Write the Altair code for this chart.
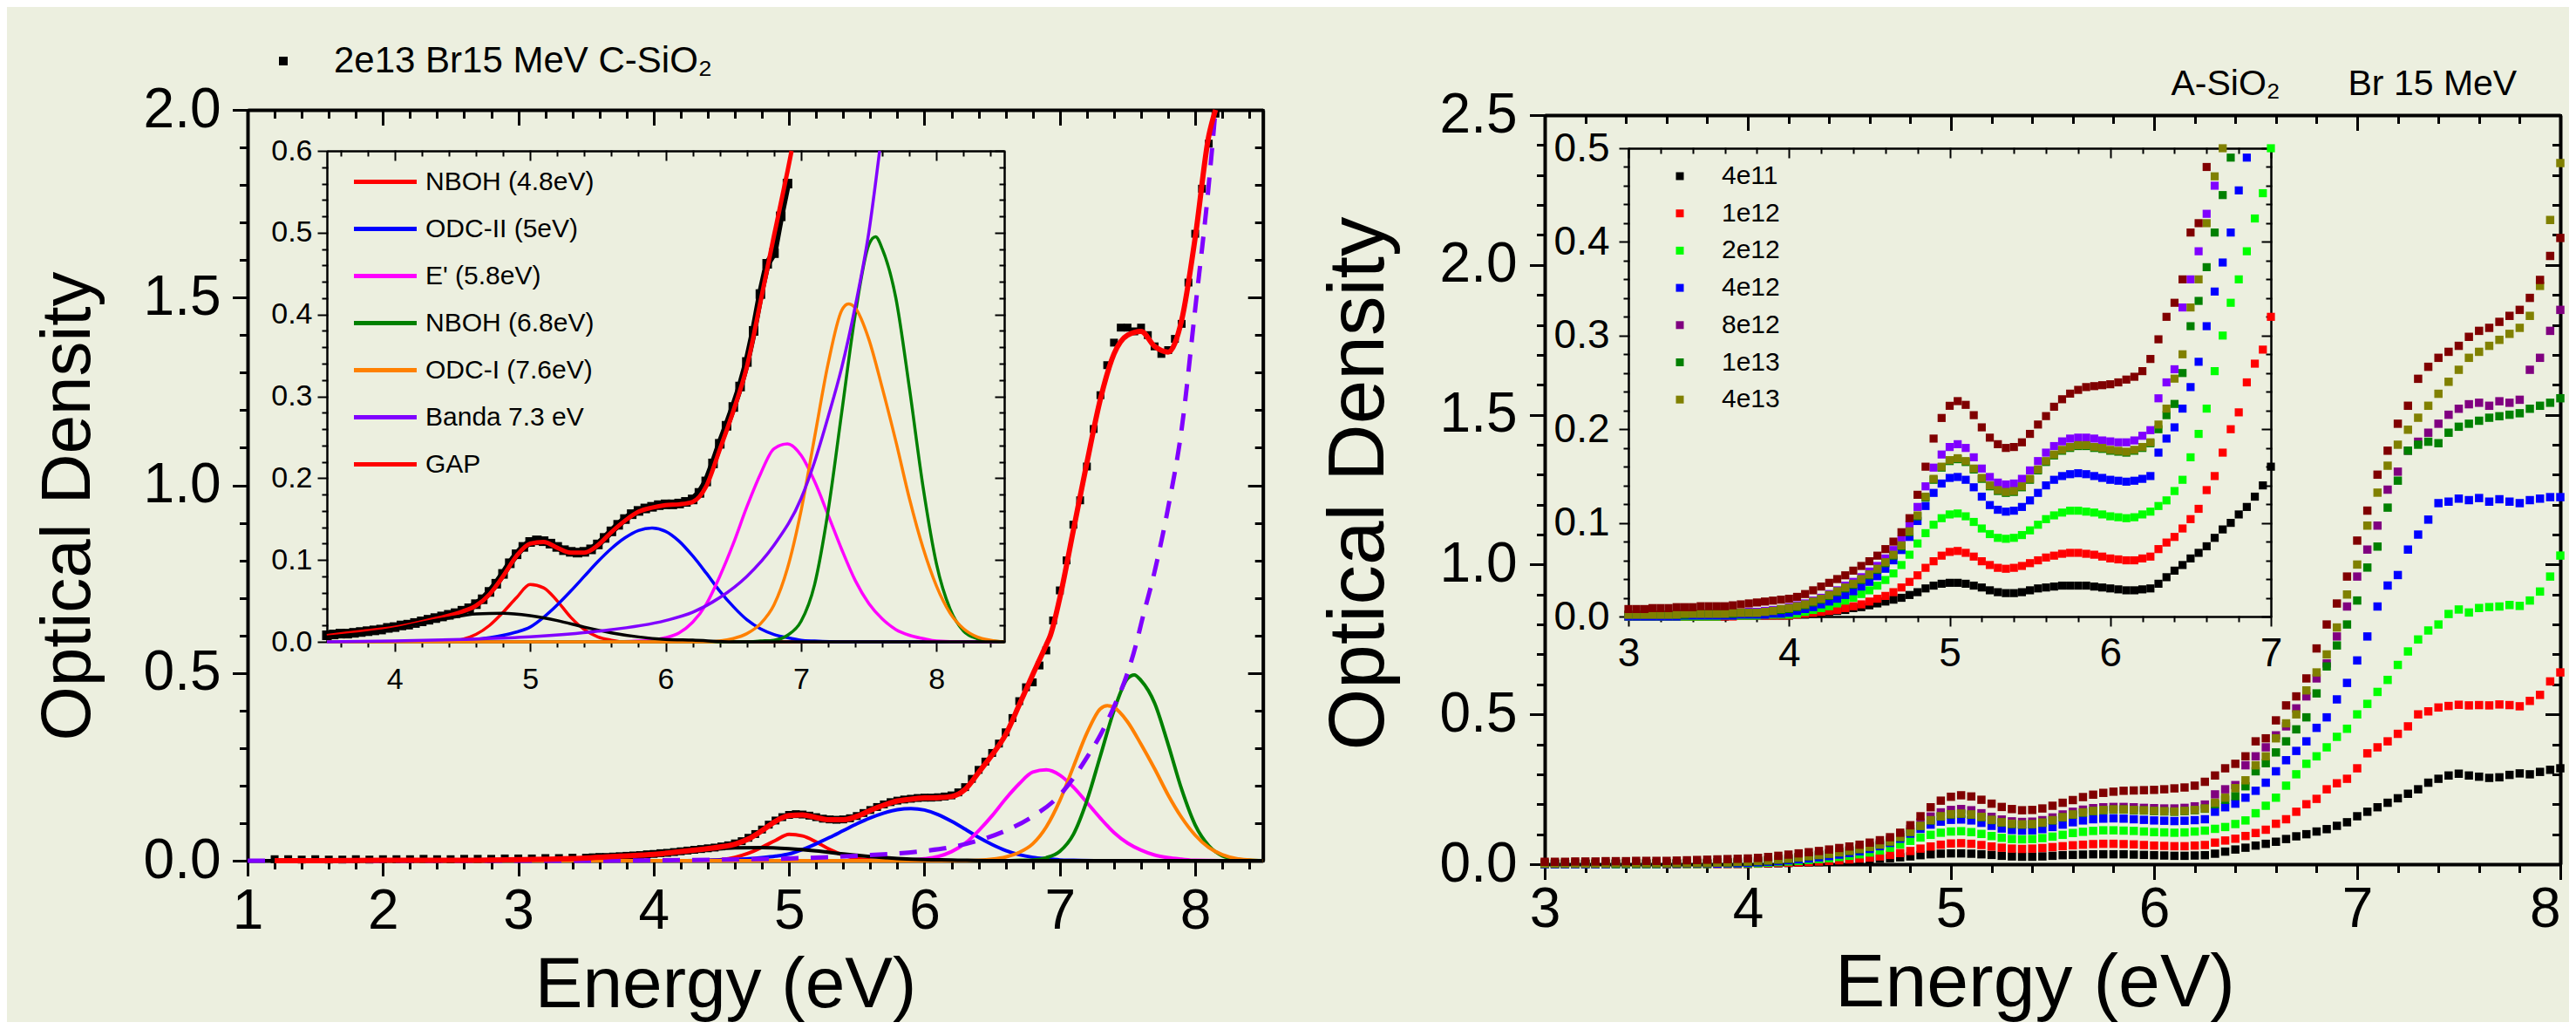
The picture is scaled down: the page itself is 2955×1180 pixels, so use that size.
import altair as alt
import pandas as pd

# ====================== LEFT PANEL DATA (C-SiO2, 2e13 Br 15 MeV) ======================
LEFT_LEGEND = "2e13 Br15 MeV C-SiO\u2082"

pts_E = [1.2, 1.3, 1.4, 1.5, 1.6, 1.7, 1.8, 1.9, 2.0, 2.1, 2.2, 2.3, 2.4, 2.5, 2.6, 2.7, 2.8, 2.9, 3.0, 3.1, 3.2, 3.3, 3.4,
         3.5, 3.55, 3.6, 3.65, 3.7, 3.75, 3.8, 3.85, 3.9, 3.95,
         4.0, 4.05, 4.1, 4.15, 4.2, 4.25, 4.3, 4.35, 4.4, 4.45,
         4.5, 4.55, 4.6, 4.65, 4.7, 4.75, 4.8, 4.85, 4.9, 4.95,
         5.0, 5.05, 5.1, 5.15, 5.2, 5.25, 5.3, 5.35, 5.4, 5.45,
         5.5, 5.55, 5.6, 5.65, 5.7, 5.75, 5.8, 5.85, 5.9, 5.95,
         6.0, 6.05, 6.1, 6.15, 6.2, 6.25, 6.3, 6.35, 6.4, 6.45,
         6.5, 6.55, 6.6, 6.65, 6.7, 6.75, 6.8, 6.85, 6.9, 6.95,
         7.0, 7.05, 7.1, 7.15, 7.2, 7.25, 7.3, 7.35, 7.4, 7.45,
         7.5, 7.55, 7.6, 7.65, 7.7, 7.75, 7.8, 7.85, 7.9, 7.95,
         8.0, 8.05, 8.1, 8.15]
pts_OD = [0.004, 0.004, 0.003, 0.004, 0.003, 0.003, 0.004, 0.003, 0.004, 0.004, 0.004, 0.005, 0.004, 0.004, 0.005,
          0.005, 0.005, 0.006, 0.006, 0.006, 0.007, 0.007, 0.008,
          0.008, 0.009, 0.010, 0.010, 0.011, 0.012, 0.013, 0.014, 0.015, 0.017,
          0.018, 0.020, 0.021, 0.023, 0.025, 0.027, 0.029, 0.031, 0.033, 0.035,
          0.038, 0.041, 0.046, 0.052, 0.061, 0.071, 0.083, 0.096, 0.107, 0.116,
          0.122, 0.124, 0.123, 0.120, 0.116, 0.112, 0.110, 0.109, 0.110, 0.113,
          0.119, 0.127, 0.135, 0.143, 0.150, 0.156, 0.160, 0.163, 0.165, 0.167,
          0.168, 0.168, 0.169, 0.171, 0.174, 0.182, 0.196, 0.218, 0.242, 0.264,
          0.287, 0.312, 0.342, 0.380, 0.425, 0.462, 0.475, 0.520, 0.560, 0.640,
          0.720, 0.800, 0.895, 0.960, 1.050, 1.150, 1.240, 1.320, 1.380, 1.420,
          1.420, 1.410, 1.420, 1.400, 1.370, 1.350, 1.360, 1.390, 1.430, 1.540,
          1.670, 1.790, 1.910, 1.990]

# total fit ("GAP" legend entry, red)
fit_E = [1.2, 1.5, 2.0, 2.5, 3.0, 3.5, 3.75, 4.0, 4.25, 4.5,
         4.6, 4.7, 4.8, 4.9, 5.0, 5.1, 5.2, 5.3, 5.4, 5.5, 5.6, 5.7, 5.8, 5.9, 6.0, 6.1, 6.2, 6.3, 6.4, 6.5,
         6.6, 6.7, 6.8, 6.9, 6.93, 7.0, 7.1, 7.2, 7.3, 7.4, 7.5, 7.6, 7.7, 7.8, 7.9, 8.0, 8.1, 8.15]
fit_OD = [0.000, 0.000, 0.001, 0.001, 0.003, 0.007, 0.012, 0.017, 0.026, 0.037,
          0.044, 0.058, 0.080, 0.105, 0.120, 0.122, 0.115, 0.109, 0.109, 0.118, 0.134, 0.148, 0.159, 0.164,
          0.167, 0.168, 0.171, 0.190, 0.235, 0.282,
          0.336, 0.415, 0.496, 0.575, 0.600, 0.700, 0.880, 1.060, 1.230, 1.350, 1.400, 1.410, 1.370, 1.355,
          1.440, 1.660, 1.930, 2.000]

# gaussian components
nboh48_E = [1.0, 3.5, 4.3, 4.4, 4.5, 4.6, 4.7, 4.8, 4.9, 5.0, 5.1, 5.2, 5.3, 5.4, 5.5, 5.6, 5.7, 8.5]
nboh48 = [0, 0, 0, 0.001, 0.003, 0.009, 0.020, 0.036, 0.054, 0.070, 0.066, 0.050, 0.030, 0.015, 0.006, 0.002, 0, 0]

odc2_E = [1.0, 3.5, 4.2, 4.4, 4.5, 4.6, 4.7, 4.8, 4.9, 5.0, 5.1, 5.2, 5.3, 5.4, 5.5, 5.6, 5.7, 5.8, 5.9, 6.0,
          6.1, 6.2, 6.3, 6.4, 6.5, 6.6, 6.7, 6.8, 6.9, 7.0, 7.1, 7.3, 8.5]
odc2 = [0, 0, 0, 0.001, 0.002, 0.003, 0.005, 0.008, 0.012, 0.018, 0.030, 0.045, 0.062, 0.080, 0.098, 0.114,
        0.127, 0.136, 0.139, 0.135, 0.123, 0.105, 0.084, 0.062, 0.043, 0.027, 0.016, 0.009, 0.005, 0.002,
        0.001, 0, 0]

eprime_E = [1.0, 3.5, 5.6, 5.8, 5.9, 6.0, 6.1, 6.2, 6.3, 6.4, 6.5, 6.6, 6.7, 6.8, 6.9, 7.0, 7.1, 7.2, 7.3,
            7.4, 7.5, 7.6, 7.7, 7.8, 7.9, 8.0, 8.2, 8.5]
eprime = [0, 0, 0, 0.001, 0.002, 0.005, 0.011, 0.024, 0.046, 0.080, 0.120, 0.165, 0.205, 0.236, 0.242,
          0.228, 0.196, 0.155, 0.113, 0.075, 0.047, 0.028, 0.015, 0.008, 0.004, 0.001, 0, 0]

nboh68_E = [1.0, 3.5, 6.6, 6.7, 6.8, 6.9, 7.0, 7.1, 7.2, 7.3, 7.4, 7.5, 7.55, 7.6, 7.7, 7.8, 7.9, 8.0, 8.1,
            8.2, 8.3, 8.4, 8.5]
nboh68 = [0, 0, 0, 0.001, 0.002, 0.008, 0.025, 0.070, 0.160, 0.280, 0.400, 0.485, 0.495, 0.480, 0.420,
          0.310, 0.190, 0.095, 0.040, 0.013, 0.004, 0.001, 0]

odc1_E = [1.0, 3.5, 6.3, 6.4, 6.5, 6.6, 6.7, 6.8, 6.9, 7.0, 7.1, 7.2, 7.3, 7.35, 7.4, 7.5, 7.6, 7.7, 7.8,
          7.9, 8.0, 8.1, 8.2, 8.3, 8.4, 8.5]
odc1 = [0, 0, 0, 0.001, 0.004, 0.010, 0.022, 0.045, 0.090, 0.160, 0.250, 0.340, 0.405, 0.413, 0.408,
        0.370, 0.310, 0.245, 0.175, 0.115, 0.068, 0.035, 0.016, 0.006, 0.002, 0]

broad_E = [1.0, 2.5, 3.0, 3.5, 4.0, 4.2, 4.4, 4.6, 4.8, 5.0, 5.2, 5.4, 5.6, 5.8, 6.0, 6.2, 6.5, 8.5]
broad = [0, 0.001, 0.002, 0.006, 0.016, 0.023, 0.029, 0.034, 0.035, 0.032, 0.026, 0.018, 0.011, 0.006,
         0.003, 0.002, 0, 0]

banda_E = [1.0, 3.5, 4.0, 4.5, 5.0, 5.5, 6.0, 6.2, 6.4, 6.6, 6.8, 7.0, 7.1, 7.2, 7.3, 7.4, 7.5, 7.58, 7.6,
           7.7, 7.8, 7.9, 8.0, 8.1, 8.15]
banda = [0, 0, 0.001, 0.003, 0.006, 0.013, 0.026, 0.036, 0.054, 0.080, 0.118, 0.175, 0.220, 0.275, 0.335,
         0.410, 0.500, 0.600, 0.630, 0.770, 0.940, 1.150, 1.470, 1.800, 2.000]

COMP_NAMES = ["NBOH (4.8eV)", "ODC-II (5eV)", "E' (5.8eV)", "NBOH (6.8eV)", "ODC-I (7.6eV)",
              "Banda 7.3 eV", "GAP"]
COMP_COLORS = ["#FF0000", "#0000FF", "#FF00FF", "#008000", "#FF8000", "#8000FF", "#FF0000"]
BROAD_NAME = "banda 4.7 eV"

# ====================== RIGHT PANEL DATA (A-SiO2, Br 15 MeV) ======================
r_E = [3.0, 3.05, 3.1, 3.15, 3.2, 3.25, 3.3, 3.35, 3.4, 3.45,
       3.5, 3.55, 3.6, 3.65, 3.7, 3.75, 3.8, 3.85, 3.9, 3.95,
       4.0, 4.05, 4.1, 4.15, 4.2, 4.25, 4.3, 4.35, 4.4, 4.45,
       4.5, 4.55, 4.6, 4.65, 4.7, 4.75, 4.8, 4.85, 4.9, 4.95,
       5.0, 5.05, 5.1, 5.15, 5.2, 5.25, 5.3, 5.35, 5.4, 5.45,
       5.5, 5.55, 5.6, 5.65, 5.7, 5.75, 5.8, 5.85, 5.9, 5.95,
       6.0, 6.05, 6.1, 6.15, 6.2, 6.25, 6.3, 6.35, 6.4, 6.45,
       6.5, 6.55, 6.6, 6.65, 6.7, 6.75, 6.8, 6.85, 6.9, 6.95,
       7.0, 7.05, 7.1, 7.15, 7.2, 7.25, 7.3, 7.35, 7.4, 7.45,
       7.5, 7.55, 7.6, 7.65, 7.7, 7.75, 7.8, 7.85, 7.9, 7.95,
       8.0]

s_4e11 = [0.000, 0.000, 0.000, 0.000, 0.000, 0.000, 0.000, 0.000, 0.000, 0.000,
          0.000, 0.000, 0.000, 0.001, 0.001, 0.001, 0.001, 0.001, 0.001, 0.001,
          0.001, 0.002, 0.002, 0.003, 0.004, 0.005, 0.006, 0.007, 0.009, 0.010,
          0.012, 0.014, 0.016, 0.018, 0.020, 0.023, 0.026, 0.030, 0.033, 0.035,
          0.036, 0.036, 0.035, 0.033, 0.031, 0.028, 0.026, 0.025, 0.025, 0.026,
          0.028, 0.030, 0.031, 0.032, 0.033, 0.033, 0.033, 0.033, 0.032, 0.031,
          0.030, 0.029, 0.028, 0.028, 0.029, 0.030, 0.035, 0.042, 0.049, 0.055,
          0.062, 0.068, 0.075, 0.084, 0.093, 0.100, 0.109, 0.117, 0.128, 0.140,
          0.160, 0.175, 0.190, 0.205, 0.220, 0.235, 0.250, 0.272, 0.285, 0.296,
          0.302, 0.296, 0.292, 0.288, 0.290, 0.298, 0.303, 0.300, 0.308, 0.315,
          0.320]
s_1e12 = [0.000, 0.000, 0.000, 0.000, 0.000, 0.000, 0.000, 0.000, 0.000, 0.000,
          0.000, 0.000, 0.000, 0.000, 0.001, 0.001, 0.001, 0.001, 0.001, 0.001,
          0.001, 0.002, 0.003, 0.004, 0.005, 0.006, 0.007, 0.009, 0.011, 0.013,
          0.016, 0.019, 0.022, 0.026, 0.031, 0.037, 0.044, 0.052, 0.059, 0.065,
          0.069, 0.070, 0.068, 0.064, 0.059, 0.055, 0.052, 0.051, 0.052, 0.054,
          0.057, 0.060, 0.063, 0.065, 0.067, 0.068, 0.068, 0.067, 0.066, 0.064,
          0.062, 0.061, 0.060, 0.060, 0.062, 0.064, 0.072, 0.079, 0.085, 0.094,
          0.104, 0.115, 0.135, 0.150, 0.175, 0.200, 0.218, 0.250, 0.270, 0.285,
          0.320, 0.370, 0.390, 0.410, 0.435, 0.460, 0.500, 0.510, 0.523, 0.528,
          0.532, 0.530, 0.531, 0.530, 0.533, 0.531, 0.527, 0.545, 0.565, 0.610,
          0.640]
s_2e12 = [0.000, 0.000, 0.000, 0.000, 0.000, 0.000, 0.000, 0.000, 0.000, 0.000,
          0.000, 0.000, 0.001, 0.001, 0.001, 0.001, 0.001, 0.002, 0.002, 0.002,
          0.002, 0.003, 0.005, 0.007, 0.009, 0.011, 0.014, 0.017, 0.020, 0.024,
          0.028, 0.033, 0.039, 0.046, 0.055, 0.066, 0.078, 0.089, 0.098, 0.105,
          0.109, 0.110, 0.107, 0.101, 0.094, 0.088, 0.084, 0.083, 0.084, 0.087,
          0.092, 0.098, 0.104, 0.108, 0.111, 0.113, 0.113, 0.112, 0.111, 0.109,
          0.107, 0.106, 0.105, 0.106, 0.109, 0.112, 0.118, 0.124, 0.134, 0.146,
          0.170, 0.195, 0.222, 0.262, 0.300, 0.335, 0.360, 0.390, 0.425, 0.452,
          0.500, 0.535, 0.575, 0.615, 0.665, 0.710, 0.750, 0.780, 0.800, 0.835,
          0.850, 0.840, 0.855, 0.858, 0.860, 0.865, 0.862, 0.880, 0.910, 0.960,
          1.030]
s_4e12 = [0.000, 0.000, 0.000, 0.000, 0.000, 0.000, 0.000, 0.001, 0.001, 0.001,
          0.001, 0.001, 0.001, 0.001, 0.002, 0.002, 0.002, 0.002, 0.003, 0.003,
          0.004, 0.006, 0.008, 0.010, 0.013, 0.016, 0.019, 0.023, 0.027, 0.032,
          0.037, 0.043, 0.051, 0.060, 0.071, 0.085, 0.102, 0.118, 0.132, 0.142,
          0.148, 0.149, 0.146, 0.138, 0.128, 0.119, 0.114, 0.112, 0.113, 0.117,
          0.124, 0.132, 0.140, 0.146, 0.150, 0.152, 0.153, 0.152, 0.150, 0.148,
          0.146, 0.145, 0.144, 0.145, 0.147, 0.150, 0.175, 0.190, 0.202, 0.222,
          0.245, 0.272, 0.310, 0.347, 0.378, 0.410, 0.455, 0.490, 0.550, 0.605,
          0.680, 0.760, 0.860, 0.930, 0.965, 1.050, 1.100, 1.150, 1.205, 1.210,
          1.220, 1.215, 1.222, 1.210, 1.218, 1.210, 1.205, 1.215, 1.220, 1.225,
          1.225]
s_8e12 = [0.002, 0.002, 0.002, 0.002, 0.002, 0.002, 0.003, 0.003, 0.003, 0.003,
          0.003, 0.003, 0.004, 0.004, 0.004, 0.005, 0.005, 0.006, 0.007, 0.008,
          0.010, 0.012, 0.014, 0.017, 0.020, 0.024, 0.028, 0.033, 0.037, 0.042,
          0.048, 0.054, 0.062, 0.071, 0.082, 0.098, 0.117, 0.139, 0.159, 0.173,
          0.181, 0.184, 0.180, 0.170, 0.158, 0.149, 0.143, 0.141, 0.142, 0.147,
          0.156, 0.166, 0.175, 0.182, 0.187, 0.190, 0.191, 0.191, 0.190, 0.188,
          0.187, 0.186, 0.186, 0.188, 0.193, 0.199, 0.233, 0.250, 0.264, 0.330,
          0.360, 0.390, 0.430, 0.460, 0.520, 0.560, 0.620, 0.670, 0.760, 0.860,
          0.960, 1.050, 1.130, 1.250, 1.310, 1.380, 1.410, 1.440, 1.470, 1.500,
          1.520, 1.535, 1.540, 1.530, 1.545, 1.540, 1.550, 1.650, 1.690, 1.780,
          1.850]
s_1e13 = [0.002, 0.002, 0.002, 0.002, 0.002, 0.002, 0.002, 0.002, 0.003, 0.003,
          0.003, 0.003, 0.003, 0.003, 0.004, 0.004, 0.004, 0.005, 0.006, 0.007,
          0.008, 0.010, 0.012, 0.015, 0.018, 0.022, 0.026, 0.030, 0.034, 0.039,
          0.044, 0.050, 0.057, 0.065, 0.075, 0.090, 0.107, 0.127, 0.146, 0.159,
          0.166, 0.168, 0.165, 0.157, 0.147, 0.139, 0.134, 0.132, 0.133, 0.138,
          0.146, 0.156, 0.165, 0.172, 0.177, 0.180, 0.182, 0.182, 0.180, 0.179,
          0.177, 0.176, 0.175, 0.177, 0.180, 0.185, 0.200, 0.215, 0.227, 0.260,
          0.310, 0.337, 0.373, 0.410, 0.450, 0.490, 0.570, 0.660, 0.730, 0.800,
          0.880, 0.990, 1.060, 1.190, 1.280, 1.380, 1.400, 1.410, 1.405, 1.440,
          1.460, 1.470, 1.480, 1.490, 1.495, 1.500, 1.505, 1.520, 1.530, 1.540,
          1.555]
s_4e13 = [0.002, 0.002, 0.002, 0.002, 0.002, 0.002, 0.002, 0.003, 0.003, 0.003,
          0.003, 0.003, 0.003, 0.004, 0.004, 0.004, 0.004, 0.005, 0.006, 0.008,
          0.009, 0.011, 0.013, 0.016, 0.019, 0.023, 0.027, 0.031, 0.035, 0.040,
          0.045, 0.051, 0.058, 0.066, 0.076, 0.091, 0.108, 0.128, 0.147, 0.160,
          0.167, 0.169, 0.166, 0.158, 0.148, 0.140, 0.135, 0.133, 0.134, 0.139,
          0.147, 0.157, 0.166, 0.173, 0.178, 0.181, 0.183, 0.183, 0.181, 0.180,
          0.178, 0.177, 0.176, 0.178, 0.181, 0.186, 0.205, 0.222, 0.254, 0.280,
          0.330, 0.360, 0.420, 0.470, 0.500, 0.580, 0.640, 0.700, 0.790, 0.900,
          1.000, 1.130, 1.240, 1.330, 1.400, 1.450, 1.490, 1.530, 1.570, 1.610,
          1.650, 1.690, 1.710, 1.730, 1.750, 1.770, 1.790, 1.830, 1.930, 2.150,
          2.340]
s_top = [0.008, 0.008, 0.008, 0.009, 0.009, 0.009, 0.010, 0.010, 0.010, 0.011,
         0.011, 0.011, 0.011, 0.012, 0.013, 0.014, 0.015, 0.016, 0.017, 0.018,
         0.019, 0.021, 0.024, 0.028, 0.032, 0.036, 0.040, 0.044, 0.049, 0.054,
         0.059, 0.065, 0.072, 0.080, 0.090, 0.105, 0.130, 0.160, 0.190, 0.212,
         0.225, 0.230, 0.226, 0.215, 0.202, 0.191, 0.184, 0.180, 0.181, 0.186,
         0.195, 0.205, 0.214, 0.224, 0.232, 0.238, 0.242, 0.245, 0.246, 0.247,
         0.248, 0.250, 0.253, 0.256, 0.262, 0.275, 0.296, 0.320, 0.335, 0.360,
         0.410, 0.420, 0.480, 0.530, 0.560, 0.620, 0.720, 0.800, 0.870, 0.960,
         1.080, 1.180, 1.300, 1.380, 1.470, 1.530, 1.620, 1.660, 1.690, 1.710,
         1.730, 1.760, 1.780, 1.790, 1.810, 1.830, 1.850, 1.890, 1.950, 2.030,
         2.090]

R_NAMES = ["4e11", "1e12", "2e12", "4e12", "8e12", "1e13", "4e13", "sin etiqueta"]
R_SERIES = [s_4e11, s_1e12, s_2e12, s_4e12, s_8e12, s_1e13, s_4e13, s_top]
R_COLORS = ["#000000", "#FF0000", "#00FF00", "#0000FF", "#800080", "#008000", "#808000", "#800000"]
R_INSET_COLORS = ["#000000", "#FF0000", "#00FF00", "#0000FF", "#8000FF", "#008000", "#808000", "#800000"]
R_LEGEND = R_NAMES[:7]

# ====================== layout ======================
W, H = 2939, 1164
BG = "#ECEFDF"
FONT = "Liberation Sans"


def pc(v):  # page pixel -> chart pixel
    return v - 8


LM = dict(xd=[1, 8.5], yd=[0, 2], xr=[pc(284), pc(1448.7)], yr=[pc(987), pc(126)])
LI = dict(xd=[3.5, 8.5], yd=[0, 0.6], xr=[pc(375), pc(1152)], yr=[pc(736), pc(173)])
RM = dict(xd=[3, 8], yd=[0, 2.5], xr=[pc(1772), pc(2937)], yr=[pc(991), pc(132)])
RI = dict(xd=[3, 7], yd=[0, 0.5], xr=[pc(1868), pc(2605)], yr=[pc(707), pc(170)])


def check(a, b, name):
    if len(a) != len(b):
        raise ValueError(f"{name}: {len(a)} vs {len(b)}")


check(pts_E, pts_OD, "pts")
check(fit_E, fit_OD, "fit")
for nm, e, v in [("nboh48", nboh48_E, nboh48), ("odc2", odc2_E, odc2), ("eprime", eprime_E, eprime),
                 ("nboh68", nboh68_E, nboh68), ("odc1", odc1_E, odc1), ("broad", broad_E, broad),
                 ("banda", banda_E, banda)]:
    check(e, v, nm)
for nm, s in zip(R_NAMES, R_SERIES):
    check(r_E, s, nm)

pts_df = pd.DataFrame({"E": pts_E, "OD": pts_OD, "label": LEFT_LEGEND})
fit_df = pd.DataFrame({"E": fit_E, "OD": fit_OD})
comp_parts = []
for nm, e, v in [(COMP_NAMES[0], nboh48_E, nboh48), (COMP_NAMES[1], odc2_E, odc2),
                 (COMP_NAMES[2], eprime_E, eprime), (COMP_NAMES[3], nboh68_E, nboh68),
                 (COMP_NAMES[4], odc1_E, odc1), (BROAD_NAME, broad_E, broad)]:
    comp_parts.append(pd.DataFrame({"E": e, "OD": v, "comp": nm}))
comp_df = pd.concat(comp_parts, ignore_index=True)
banda_df = pd.DataFrame({"E": banda_E, "OD": banda, "comp": COMP_NAMES[5]})
comp_all_df = pd.concat([comp_df, banda_df], ignore_index=True)
ALL_COMP = COMP_NAMES + [BROAD_NAME]
ALL_COMP_COLORS = COMP_COLORS + ["#000000"]

r_df = pd.concat([pd.DataFrame({"E": r_E, "OD": s, "series": nm}) for nm, s in zip(R_NAMES, R_SERIES)],
                 ignore_index=True)


def sx(b):
    return alt.Scale(domain=b["xd"], range=b["xr"], nice=False, zero=False)


def sy(b):
    return alt.Scale(domain=b["yd"], range=b["yr"], nice=False, zero=False)


def XY(b):
    return dict(x=alt.X("E:Q", scale=sx(b), axis=None), y=alt.Y("OD:Q", scale=sy(b), axis=None))


def ticks(a, b, step, majors):
    n = int(round((b - a) / step))
    vals = [round(a + i * step, 4) for i in range(n + 1)]
    return [v for v in vals if all(abs(v - m) > 1e-6 for m in majors)]


def T(text, size, x, y, angle=0, align="center"):
    return dict(title=text, titleFont=FONT, titleFontSize=size, titleFontWeight="normal",
                titleColor="black", titleX=x, titleY=y, titleAngle=angle,
                titleAlign=align, titleBaseline="alphabetic")


def frame(b, xmaj, ymaj, xmin, ymin, lab, tmaj, tmin, dw, tw, xfmt, yfmt, xpad, ypad,
          xtitle=None, ytitle=None, toptitle=None, toptitle2=None, xalign=None):
    d = pd.DataFrame({"x": [b["xd"][0]], "y": [b["yd"][0]]})
    bottom, top = b["yr"]
    left, right = b["xr"]
    base = dict(grid=False, tickColor="black", domainColor="black", tickWidth=tw, domainWidth=dw,
                labelFont=FONT, labelFontSize=lab, labelColor="black", labelOverlap=False,
                labelFlush=False, labelBound=False, tickCap="square")

    def ttl(t):
        return t if t else dict(title=None)

    xextra = dict(labelAlign=xalign) if xalign else {}

    def lay(xax, yax):
        return alt.Chart(d).mark_point(opacity=0).encode(
            x=alt.X("x:Q", scale=sx(b), axis=xax),
            y=alt.Y("y:Q", scale=sy(b), axis=yax))

    out = [
        lay(alt.Axis(orient="bottom", offset=bottom - H, values=xmaj, tickSize=tmaj, format=xfmt,
                     labelPadding=xpad, domain=True, **base, **xextra, **ttl(xtitle)),
            alt.Axis(orient="left", offset=-left, values=ymaj, tickSize=tmaj, format=yfmt,
                     labelPadding=ypad, domain=True, **base, **ttl(ytitle))),
        lay(alt.Axis(orient="bottom", offset=bottom - H, values=xmin, tickSize=tmin, labels=False,
                     domain=False, **base, title=None),
            alt.Axis(orient="left", offset=-left, values=ymin, tickSize=tmin, labels=False,
                     domain=False, **base, title=None)),
        lay(alt.Axis(orient="bottom", offset=top - H, values=xmaj, tickSize=tmaj, labels=False,
                     domain=True, **base, **ttl(toptitle)),
            alt.Axis(orient="left", offset=-right, values=ymaj, tickSize=tmaj, labels=False,
                     domain=True, **base, title=None)),
        lay(alt.Axis(orient="bottom", offset=top - H, values=xmin, tickSize=tmin, labels=False,
                     domain=False, **base, **ttl(toptitle2)),
            alt.Axis(orient="left", offset=-right, values=ymin, tickSize=tmin, labels=False,
                     domain=False, **base, title=None)),
    ]
    return out


# ---------------- left main ----------------
lm_pts = alt.Chart(pts_df).mark_square(size=81, opacity=1).encode(
    **XY(LM),
    color=alt.Color("label:N", scale=alt.Scale(domain=[LEFT_LEGEND], range=["#000000"]),
                    legend=alt.Legend(orient="none", legendX=296, legendY=41, title=None, padding=0,
                                      labelFont=FONT, labelFontSize=42, labelColor="black",
                                      labelLimit=0, labelOffset=37, symbolType="square",
                                      symbolSize=100, symbolStrokeWidth=0)))
lm_comp = alt.Chart(comp_df).mark_line(strokeWidth=4, interpolate="monotone").encode(
    **XY(LM), color=alt.Color("comp:N", scale=alt.Scale(domain=ALL_COMP, range=ALL_COMP_COLORS), legend=None))
lm_banda = alt.Chart(banda_df).mark_line(strokeWidth=5, strokeDash=[20, 14], interpolate="monotone",
                                         color="#8000FF").encode(**XY(LM))
lm_fit = alt.Chart(fit_df).mark_line(strokeWidth=6, color="#FF0000", interpolate="monotone").encode(**XY(LM))

# ---------------- left inset ----------------
INSET_FILTER = "datum.E >= 3.5 && datum.OD <= 0.6"
li_band = alt.Chart(pts_df).transform_filter(INSET_FILTER).mark_line(
    strokeWidth=8, color="#000000", interpolate="linear").encode(**XY(LI))
li_pts = alt.Chart(pts_df).transform_filter(INSET_FILTER).mark_square(
    size=121, opacity=1, color="#000000").encode(**XY(LI))
li_fit = alt.Chart(fit_df).transform_filter("datum.E >= 3.5 && datum.OD <= 0.6001").mark_line(
    strokeWidth=5, color="#FF0000", interpolate="monotone").encode(**XY(LI))
li_comp = alt.Chart(comp_all_df).transform_filter("datum.E >= 3.5 && datum.OD <= 0.6001").mark_line(
    strokeWidth=3.5, interpolate="monotone").encode(
    **XY(LI),
    color=alt.Color("comp:N", scale=alt.Scale(domain=ALL_COMP, range=ALL_COMP_COLORS),
                    legend=alt.Legend(orient="none", legendX=395.5, legendY=162, title=None, padding=0,
                                      values=COMP_NAMES, labelFont=FONT, labelFontSize=30,
                                      labelColor="black", labelLimit=0, labelOffset=7.5,
                                      symbolType="stroke", symbolSize=5184, symbolStrokeWidth=5,
                                      rowPadding=-37.2)))

# ---------------- right main / inset ----------------
rm_pts = alt.Chart(r_df).mark_square(size=90, opacity=1).encode(
    **XY(RM),
    color=alt.Color("series:N", scale=alt.Scale(domain=R_NAMES, range=R_COLORS),
                    legend=alt.Legend(orient="none", legendX=1904, legendY=179, title=None, padding=0,
                                      values=R_LEGEND, labelFont=FONT, labelFontSize=30,
                                      labelColor="black", labelLimit=0, labelOffset=33,
                                      symbolType="square", symbolSize=81, symbolStrokeWidth=0,
                                      rowPadding=12.7)))
ri_pts = alt.Chart(r_df).transform_filter("datum.E <= 7.0001 && datum.OD <= 0.5").mark_square(
    size=85, opacity=1).encode(
    **XY(RI), color=alt.Color("series:N", scale=alt.Scale(domain=R_NAMES, range=R_INSET_COLORS), legend=None))

# ---------------- frames / axes ----------------
lm_frame = frame(LM, [1, 2, 3, 4, 5, 6, 7, 8], [0, 0.5, 1, 1.5, 2],
                 ticks(1, 8.4, 0.2, [1, 2, 3, 4, 5, 6, 7, 8]), ticks(0, 2, 0.1, [0, 0.5, 1, 1.5, 2]),
                 64, 16, 8, 4, 3, "d", ".1f", 10, 15,
                 xtitle=T("Energy (eV)", 82, pc(832), 167),
                 ytitle=T("Optical Density", 80, 102 - 284, pc(580), angle=270))
li_frame = frame(LI, [4, 5, 6, 7, 8], [0, 0.1, 0.2, 0.3, 0.4, 0.5, 0.6],
                 ticks(3.6, 8.4, 0.2, [4, 5, 6, 7, 8]), ticks(0, 0.6, 0.02, [0, 0.1, 0.2, 0.3, 0.4, 0.5, 0.6]),
                 34, 10, 5, 2.5, 2, "d", ".1f", 16, 7)
rm_frame = frame(RM, [3, 4, 5, 6, 7, 8], [0, 0.5, 1, 1.5, 2, 2.5],
                 ticks(3, 8, 0.2, [3, 4, 5, 6, 7, 8]), ticks(0, 2.5, 0.1, [0, 0.5, 1, 1.5, 2, 2.5]),
                 64, 16, 8, 4, 3, "d", ".1f", 4, 16,
                 xtitle=T("Energy (eV)", 86, pc(2334), 162),
                 ytitle=T("Optical Density", 91, 1586 - 1772, pc(554), angle=270),
                 toptitle=T("A-SiO\u2082", 41, pc(2490), -24, align="left"),
                 toptitle2=T("Br 15 MeV", 41, pc(2693), -24, align="left"),
                 xalign={"expr": "datum.value == 8 ? 'right' : 'center'"})
ri_frame = frame(RI, [3, 4, 5, 6, 7], [0, 0.1, 0.2, 0.3, 0.4, 0.5],
                 ticks(3, 7, 0.2, [3, 4, 5, 6, 7]), ticks(0, 0.5, 0.02, [0, 0.1, 0.2, 0.3, 0.4, 0.5]),
                 46, 10, 5, 2.5, 2, "d", ".1f", 10, 12)

layers = ([lm_pts, lm_comp, lm_banda, lm_fit] + lm_frame +
          [li_band, li_pts, li_fit, li_comp] + li_frame +
          [rm_pts] + rm_frame +
          [ri_pts] + ri_frame)

chart = alt.layer(*layers).resolve_scale(
    x="independent", y="independent", color="independent"
).properties(
    width=W, height=H, padding=0, autosize=alt.AutoSizeParams(type="none")
).configure(background=BG, font=FONT).configure_view(strokeWidth=0)

chart.save("out.html", embed_options={"renderer": "svg", "actions": False})
